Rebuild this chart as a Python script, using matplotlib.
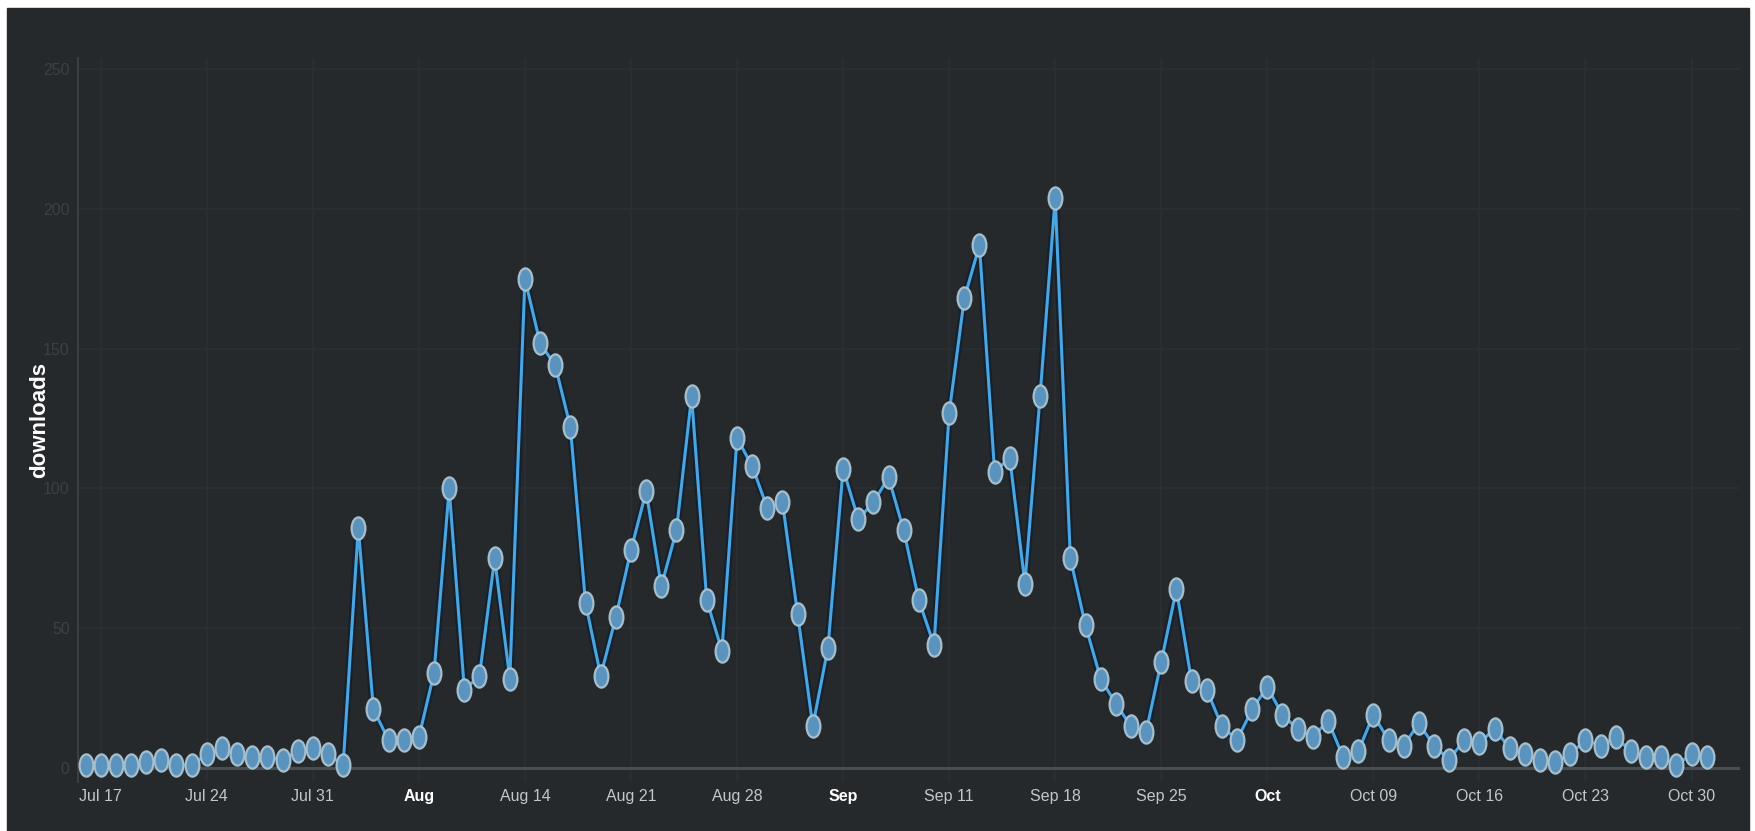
import numpy as np
import pandas as pd
import matplotlib
matplotlib.use("Agg")
import matplotlib.pyplot as plt
from matplotlib.path import Path

# daily downloads, Jul 16 .. Oct 31
start_date = "2023-07-16"
downloads = [
    1, 1, 1, 1, 2, 3, 1, 1, 5, 7, 5, 4, 4, 3, 6, 7, 5, 1,
    86, 21, 10, 10, 11, 34, 100, 28, 33, 75, 32,
    175, 152, 144, 122, 59, 33, 54, 78, 99, 65, 85, 133, 60, 42,
    118, 108, 93, 95, 55, 15, 43,
    107, 89, 95, 104, 85, 60, 44,
    127, 168, 187, 106, 111, 66, 133,
    204, 75, 51, 32, 23, 15, 13,
    38, 64, 31, 28, 15, 10, 21,
    29, 19, 14, 11, 17, 4, 6,
    19, 10, 8, 16, 8, 3, 10,
    9, 14, 7, 5, 3, 2, 5,
    10, 8, 11, 6, 4, 4, 1,
    5, 4,
]
tick_dates = ["2023-07-17", "2023-07-24", "2023-07-31", "2023-08-07",
              "2023-08-14", "2023-08-21", "2023-08-28", "2023-09-04",
              "2023-09-11", "2023-09-18", "2023-09-25", "2023-10-02",
              "2023-10-09", "2023-10-16", "2023-10-23", "2023-10-30"]
tick_labels = ["Jul 17", "Jul 24", "Jul 31", "Aug", "Aug 14", "Aug 21",
               "Aug 28", "Sep", "Sep 11", "Sep 18", "Sep 25", "Oct",
               "Oct 09", "Oct 16", "Oct 23", "Oct 30"]
y_ticks = [0, 50, 100, 150, 200, 250]

days = pd.date_range(start_date, periods=len(downloads), freq="D")

bg = "#26292c"
fig = plt.figure(figsize=(17.56, 8.31), dpi=100)
fig.patch.set_facecolor("white")
# dark panel, thin white border on top / left
panel = plt.Rectangle((7/1756, 0), 1742/1756, 1 - 8/831,
                      transform=fig.transFigure, color=bg, zorder=-10)
fig.add_artist(panel)

ax = fig.add_axes([78/1756, 1 - 782/831, 1662/1756, 724/831])
ax.set_facecolor(bg)

# ellipse marker (image is squeezed sideways)
circ = Path.unit_circle()
ell = Path(circ.vertices * np.array([0.62, 1.0]), circ.codes)

ax.plot(days, downloads, color="#142230", lw=5.5, zorder=3, solid_capstyle="round")
ax.plot(days, downloads, color="#4aa6e2", lw=2.2, zorder=4,
        marker=ell, markersize=16, markerfacecolor="#5a93bd",
        markeredgecolor="#a6bfcd", markeredgewidth=1.6)

ax.axhline(0, color="#4a4e52", lw=2.2, zorder=2)

x0 = pd.Timestamp(start_date) - pd.Timedelta(days=0.5)
ax.set_xlim(x0, x0 + pd.Timedelta(days=109.7))
ax.set_ylim(-5, 254)

ax.set_xticks(pd.to_datetime(tick_dates))
ax.set_xticklabels(tick_labels)
for lab in ax.get_xticklabels():
    if len(lab.get_text()) == 3:
        lab.set_color("white")
        lab.set_fontweight("bold")
    else:
        lab.set_color("#c4c6c8")
ax.set_yticks(y_ticks)
ax.tick_params(axis="x", length=0, pad=5, labelsize=11.5)
ax.tick_params(axis="y", length=0, pad=6, labelsize=11.5, labelcolor="#3c4044")
for lab in ax.get_xticklabels() + ax.get_yticklabels():
    lab.set_family(["Liberation Sans", "DejaVu Sans"])

ax.grid(True, color="#2c2f33", lw=1.2)
ax.set_axisbelow(True)
for s in ["top", "right", "bottom"]:
    ax.spines[s].set_visible(False)
ax.spines["left"].set_color("#3b3f43")
ax.spines["left"].set_linewidth(1.5)

ax.set_ylabel("downloads", color="white", fontsize=16, fontweight="bold",
              family=["Liberation Sans", "DejaVu Sans"], labelpad=2)
ax.yaxis.set_label_coords(-28/1662, 0.5)

fig.savefig("out.png", dpi=100, facecolor=fig.get_facecolor())
